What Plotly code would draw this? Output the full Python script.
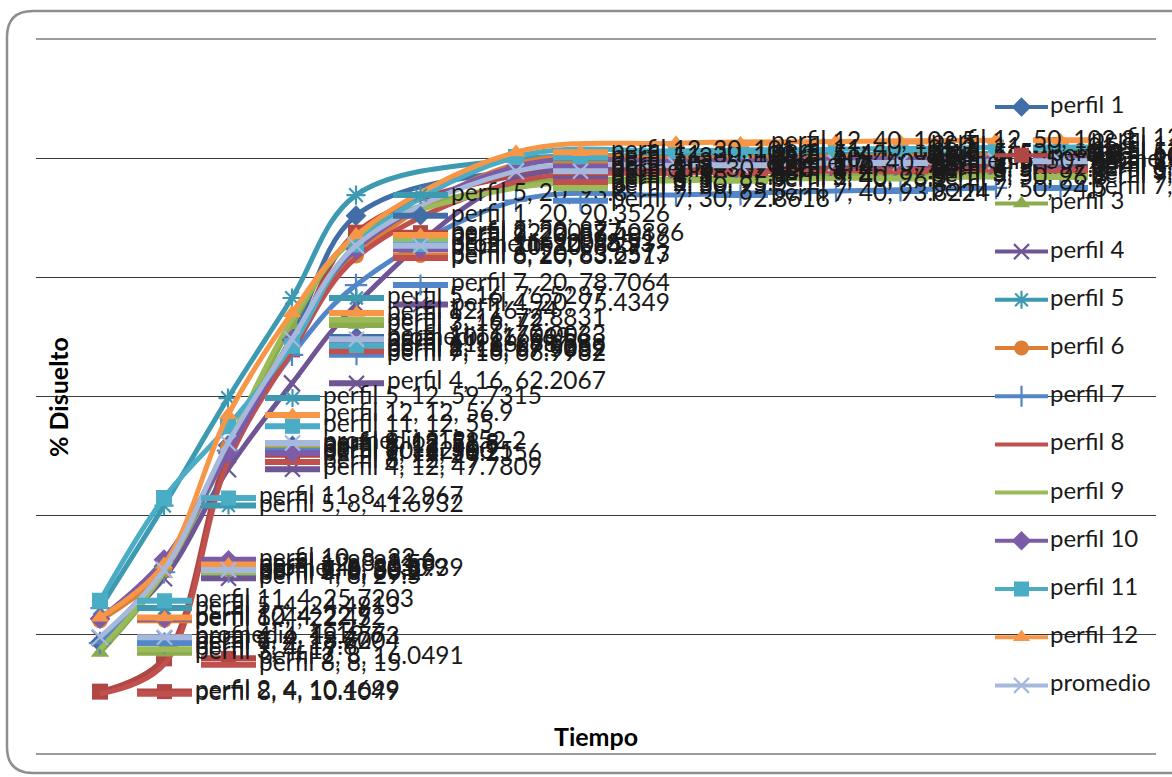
import plotly.graph_objects as go

# ---- data -------------------------------------------------------------
tiempo = [4, 8, 12, 16, 20, 30, 40, 50, 60]

perfil_1 = [18.7004, 31.5, 51.8, 70.0033, 90.3526, 98.0, 98.6, 99.0, 99.2]
perfil_2 = [10.4699, 16.0491, 50.2156, 67.9062, 87.5, 97.1, 98.0, 98.5, 99.0]
perfil_3 = [17.0, 30.2, 51.0, 72.0, 87.0, 95.5, 96.5, 97.0, 97.3]
perfil_4 = [19.4773, 29.5, 47.7809, 62.2067, 75.4349, 96.5, 97.5, 98.0, 98.3]
perfil_5 = [24.4913, 41.6932, 59.7315, 76.5287, 93.8, 99.8, 100.4, 100.6, 100.8]
perfil_6 = [22.45, 30.8939, 51.5, 68.6988, 83.6573, 99.0, 100.0, 100.3, 100.5]
perfil_7 = [18.62, 30.5, 50.9, 66.9982, 78.7064, 92.8618, 93.8224, 94.5, 95.0]
perfil_8 = [10.1049, 15.0, 49.0, 67.5889, 83.2517, 96.0, 97.5, 97.8, 98.0]
perfil_9 = [17.6, 30.5, 52.0, 72.8831, 86.4816, 95.0, 96.2, 96.6, 96.8527]
perfil_10 = [22.72, 32.6, 50.5, 69.5, 84.7, 98.6, 99.5, 99.8, 100.0]
perfil_11 = [25.7203, 42.967, 55.0, 68.5, 85.5, 100.2, 101.2, 101.5, 101.8]
perfil_12 = [22.9, 31.8, 56.9, 74.0, 87.0896, 101.0, 102.5, 102.8, 103.0]
promedio = [19.6, 30.9, 52.2, 69.6, 85.3, 97.8, 98.8, 99.2, 99.5]

nombres = ["perfil 1", "perfil 2", "perfil 3", "perfil 4", "perfil 5", "perfil 6",
           "perfil 7", "perfil 8", "perfil 9", "perfil 10", "perfil 11",
           "perfil 12", "promedio"]
series = [perfil_1, perfil_2, perfil_3, perfil_4, perfil_5, perfil_6, perfil_7,
          perfil_8, perfil_9, perfil_10, perfil_11, perfil_12, promedio]

# ---- styles -----------------------------------------------------------
colores = ["#416EA7", "#B14744", "#8CAB4E", "#6F5593", "#3D9AB1", "#DE7E35",
           "#5286C8", "#C0504D", "#9BBB59", "#7C5CA6", "#4BACC6", "#F79646",
           "#A6B9DC"]
simbolos = ["diamond", "square", "triangle-up", "x-thin-open", "asterisk-open",
            "circle", "cross-thin-open", None, None, "diamond", "square",
            "triangle-up", "x-thin-open"]

FONT = "Lato, 'Liberation Sans', sans-serif"
LABEL_SIZE = 24.5
W, H = 1172, 777
PL, PR, PT, PB = 36, 1156, 39, 754          # plot area in pixels
X0, X1, Y0, Y1 = 0, 70, 0, 120              # axis ranges
GRID = "#3a3a3a"


def px_of(t):
    return PL + (t - X0) / (X1 - X0) * (PR - PL)


def py_of(v):
    return PB - (v - Y0) / (Y1 - Y0) * (PB - PT)


def to_paper(px, py):
    return (px - PL) / (PR - PL), (PB - py) / (PB - PT)


def fmt(v):
    return f"{v:.4f}".rstrip("0").rstrip(".")


def marker_style(i, size):
    sym = simbolos[i]
    if sym is None:
        return None
    open_sym = sym.endswith("-open")
    return dict(symbol=sym, size=size,
                color=colores[i],
                line=dict(color=colores[i], width=2.2 if open_sym else 0))


fig = go.Figure()

# ---- series curves ----------------------------------------------------
for i, (nombre, vals) in enumerate(zip(nombres, series)):
    m = marker_style(i, 16)
    fig.add_trace(go.Scatter(
        x=tiempo, y=vals, name=nombre,
        mode="lines+markers" if m else "lines",
        line=dict(color=colores[i], width=5, shape="spline"),
        marker=m, showlegend=False, hoverinfo="skip",
        xaxis="x", yaxis="y"))

# ---- data labels (key + "serie, x, y") in pixel space ----------------
for i, (nombre, vals) in enumerate(zip(nombres, series)):
    kx, ky, mx, my, tx, ty, tt = [], [], [], [], [], [], []
    for t, v in zip(tiempo, vals):
        px, py = px_of(t), py_of(v)
        kx += [px + 37, px + 92, None]
        ky += [py, py, None]
        mx.append(px + 64.5)
        my.append(py)
        tx.append(px + 95)
        ty.append(py)
        tt.append(f"{nombre}, {t}, {fmt(v)}")
    fig.add_trace(go.Scatter(
        x=kx, y=ky, mode="lines", line=dict(color=colores[i], width=6),
        showlegend=False, hoverinfo="skip", cliponaxis=False,
        xaxis="x2", yaxis="y2"))
    m = marker_style(i, 15)
    if m:
        fig.add_trace(go.Scatter(
            x=mx, y=my, mode="markers", marker=m, showlegend=False,
            hoverinfo="skip", cliponaxis=False, xaxis="x2", yaxis="y2"))
    fig.add_trace(go.Scatter(
        x=tx, y=ty, mode="text", text=tt, textposition="middle right",
        textfont=dict(family=FONT, size=LABEL_SIZE, color="#1a1a1a"),
        showlegend=False, hoverinfo="skip", cliponaxis=False,
        xaxis="x2", yaxis="y2"))

# ---- legend (drawn on the pixel overlay) ------------------------------
LEG_X0, LEG_X1, LEG_TOP, LEG_STEP = 995, 1048, 107, 48.2
for i, nombre in enumerate(nombres):
    ly = LEG_TOP + i * LEG_STEP
    fig.add_trace(go.Scatter(
        x=[LEG_X0, LEG_X1], y=[ly, ly], mode="lines",
        line=dict(color=colores[i], width=4), showlegend=False,
        hoverinfo="skip", cliponaxis=False, xaxis="x2", yaxis="y2"))
    m = marker_style(i, 15)
    if m:
        fig.add_trace(go.Scatter(
            x=[(LEG_X0 + LEG_X1) / 2], y=[ly], mode="markers", marker=m,
            showlegend=False, hoverinfo="skip", cliponaxis=False,
            xaxis="x2", yaxis="y2"))
    fig.add_trace(go.Scatter(
        x=[LEG_X1 + 2], y=[ly], mode="text", text=[nombre],
        textposition="middle right",
        textfont=dict(family=FONT, size=24, color="#1a1a1a"),
        showlegend=False, hoverinfo="skip", cliponaxis=False,
        xaxis="x2", yaxis="y2"))

# ---- rounded chart frame ---------------------------------------------
frame_pts = [("M", 1185, 773), ("L", 33, 773), ("Q", 7, 773, 7, 747),
             ("L", 7, 37), ("Q", 7, 11, 33, 11), ("L", 1185, 11)]
path = ""
for seg in frame_pts:
    cmd, coords = seg[0], seg[1:]
    pts = []
    for k in range(0, len(coords), 2):
        xp, yp = to_paper(coords[k], coords[k + 1])
        pts.append(f"{xp:.5f},{yp:.5f}")
    path += cmd + " " + " ".join(pts) + " "
shapes = [dict(type="path", xref="paper", yref="paper", path=path.strip(),
               line=dict(color="#8f8f8f", width=2.5), layer="above")]
# gridlines at both ends of the value range
for yv in (0, 1):
    shapes.append(dict(type="line", xref="paper", yref="paper",
                       x0=0, x1=1, y0=yv, y1=yv,
                       line=dict(color=GRID, width=1.2), layer="below"))

# ---- axis titles ------------------------------------------------------
ax_t, ay_t = to_paper(596, 736)
yx_t, yy_t = to_paper(58, 397)
annotations = [
    dict(text="<b>Tiempo</b>", x=ax_t, y=ay_t, xref="paper", yref="paper",
         xanchor="center", yanchor="middle", showarrow=False,
         font=dict(family=FONT, size=25, color="#000000")),
    dict(text="<b>% Disuelto</b>", x=yx_t, y=yy_t, xref="paper", yref="paper",
         xanchor="center", yanchor="middle", showarrow=False, textangle=-90,
         font=dict(family=FONT, size=25, color="#000000")),
]

fig.update_layout(
    width=W, height=H,
    margin=dict(l=PL, r=W - PR, t=PT, b=H - PB, pad=0),
    paper_bgcolor="white", plot_bgcolor="white",
    showlegend=False,
    xaxis=dict(range=[X0, X1], showgrid=False, showticklabels=False,
               zeroline=False, showline=False, ticks=""),
    yaxis=dict(range=[Y0, Y1], dtick=20, tick0=0, showgrid=True,
               gridcolor=GRID, gridwidth=1, showticklabels=False,
               zeroline=False, showline=False, ticks=""),
    xaxis2=dict(range=[PL, PR], overlaying="x", anchor="y2", visible=False),
    yaxis2=dict(range=[PB, PT], overlaying="y", anchor="x2", visible=False),
    shapes=shapes, annotations=annotations,
)

fig.write_html("out.html")
